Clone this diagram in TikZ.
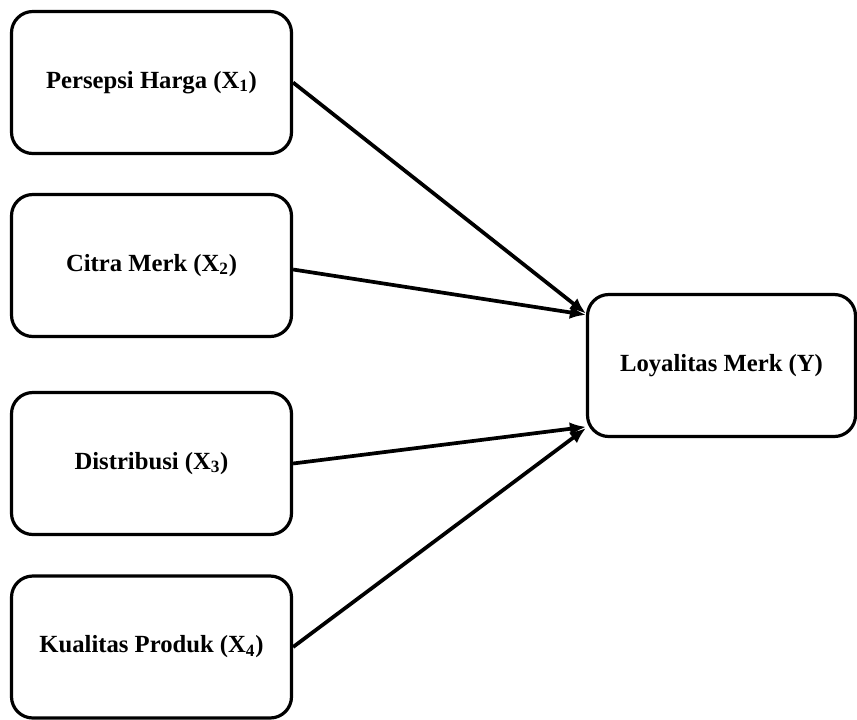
\documentclass[tikz,border=0pt]{standalone}
\usepackage{fontspec}
\setmainfont{Liberation Serif}
\usetikzlibrary{arrows.meta}
\begin{document}
\begin{tikzpicture}[x=0.75pt,y=-0.75pt,
  varbox/.style={draw=black, line width=2.4pt, rounded corners=16pt, fill=white,
    minimum width=280*0.75pt, minimum height=142*0.75pt, inner sep=0pt,
    font=\fontsize{18.5}{22}\selectfont\bfseries, align=center},
  link/.style={line width=2.8pt, -{Latex[length=12pt,width=10pt]}}]
\useasboundingbox (0,0) rectangle (857,719);
\node[varbox] (b1) at (151.5,82.5) {Persepsi Harga (X\textsubscript{1})};
\node[varbox] (b2) at (151.5,265.5) {Citra Merk (X\textsubscript{2})};
\node[varbox] (b3) at (151.5,463.5) {Distribusi (X\textsubscript{3})};
\node[varbox] (b4) at (151.5,647) {Kualitas Produk (X\textsubscript{4})};
\node[varbox, minimum width=268*0.75pt] (y) at (721.5,365.5) {Loyalitas Merk (Y)};
\draw[link] (b1.east) -- ([yshift=39pt]y.west);
\draw[link] ([yshift=-3pt]b2.east) -- ([yshift=38pt]y.west);
\draw[link] (b3.east) -- ([yshift=-46pt]y.west);
\draw[link] (b4.east) -- ([yshift=-47pt]y.west);
\end{tikzpicture}
\end{document}
